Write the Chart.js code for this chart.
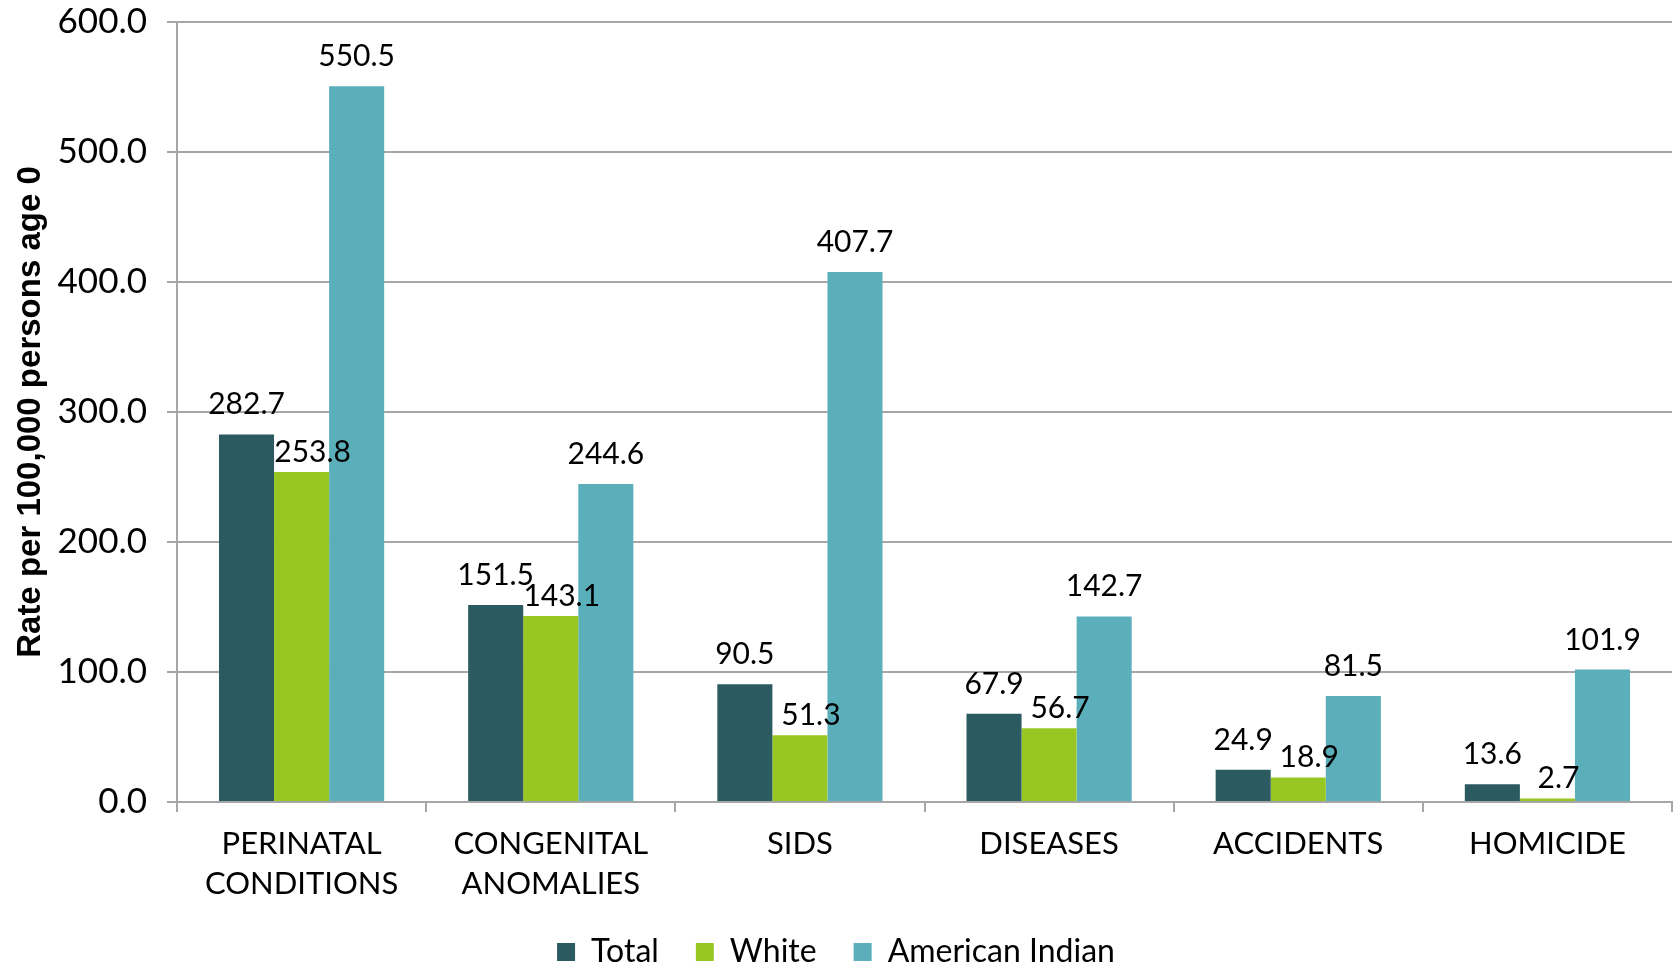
<!DOCTYPE html>
<html>
<head>
<meta charset="utf-8">
<script src="https://cdn.jsdelivr.net/npm/chart.js@4.4.0/dist/chart.umd.min.js"></script>
<style>
html,body{margin:0;padding:0;background:#fff;}
#wrap{width:1677px;height:966px;position:relative;}
</style>
</head>
<body>
<div id="wrap"><canvas id="c"></canvas></div>
<script>
const categories = [["PERINATAL","CONDITIONS"],["CONGENITAL","ANOMALIES"],"SIDS","DISEASES","ACCIDENTS","HOMICIDE"];
const seriesNames = ["Total","White","American Indian"];
const totalValues = [282.7,151.5,90.5,67.9,24.9,13.6];
const whiteValues = [253.8,143.1,51.3,56.7,18.9,2.7];
const americanIndianValues = [550.5,244.6,407.7,142.7,81.5,101.9];
const yTitle = "Rate per 100,000 persons age 0";

const FONT = "Lato, 'Open Sans', sans-serif";
const colors = ["#2B5B61","#98C723","#5AAFBA"];

const valueLabels = {
  id:'valueLabels',
  afterDatasetsDraw(chart){
    const ctx = chart.ctx;
    ctx.save();
    ctx.font = "30px " + FONT;
    ctx.fillStyle = "#000";
    ctx.textAlign = "center";
    ctx.textBaseline = "alphabetic";
    chart.data.datasets.forEach((ds,i)=>{
      const meta = chart.getDatasetMeta(i);
      // middle series labels sit lower and nudged right (as in the source chart)
      const dx = i === 1 ? 11 : 0;
      const dy = i === 1 ? 10 : 20;
      meta.data.forEach((bar,j)=>{
        ctx.fillText(ds.data[j].toFixed(1), bar.x + dx, bar.y - dy);
      });
    });
    ctx.restore();
  }
};

new Chart(document.getElementById('c'), {
  type:'bar',
  data:{
    labels: categories,
    datasets:[
      {label:seriesNames[0], data:totalValues, backgroundColor:colors[0]},
      {label:seriesNames[1], data:whiteValues, backgroundColor:colors[1]},
      {label:seriesNames[2], data:americanIndianValues, backgroundColor:colors[2]}
    ]
  },
  options:{
    responsive:true,
    maintainAspectRatio:false,
    animation:false,
    devicePixelRatio:1,
    datasets:{bar:{categoryPercentage:0.663, barPercentage:1.0}},
    layout:{padding:{left:0,right:5,top:22,bottom:-12}},
    plugins:{
      legend:{
        position:'bottom',
        labels:{
          font:{family:FONT,size:32},
          color:'#000',
          boxWidth:18,
          boxHeight:18,
          padding:37
        }
      },
      tooltip:{enabled:false}
    },
    scales:{
      x:{
        grid:{offset:true, drawOnChartArea:false, drawTicks:true, tickLength:10, color:'#a6a6a6', lineWidth:2},
        border:{display:true, color:'#a6a6a6', width:2},
        ticks:{font:{family:FONT,size:31, lineHeight:1.3}, color:'#000', maxRotation:0, autoSkip:false, padding:12},
        afterFit(s){ s.height = 97; s.paddingLeft = 0; s.paddingRight = 0; }
      },
      y:{
        min:0, max:600,
        grid:{color:'#a6a6a6', lineWidth:2, tickLength:10},
        border:{display:true, color:'#a6a6a6', width:2},
        ticks:{stepSize:100, font:{family:FONT,size:35}, color:'#000', padding:20,
          callback:(v)=>Number(v).toFixed(1)},
        title:{display:true, text:yTitle, font:{family:"'Liberation Sans', Arial, sans-serif", size:33, weight:'bold'}, color:'#000', padding:{top:11,bottom:0}},
        afterFit(s){ s.width = 177; s.paddingTop = 0; s.paddingBottom = 0; }
      }
    }
  },
  plugins:[valueLabels]
});
</script>
</body>
</html>
